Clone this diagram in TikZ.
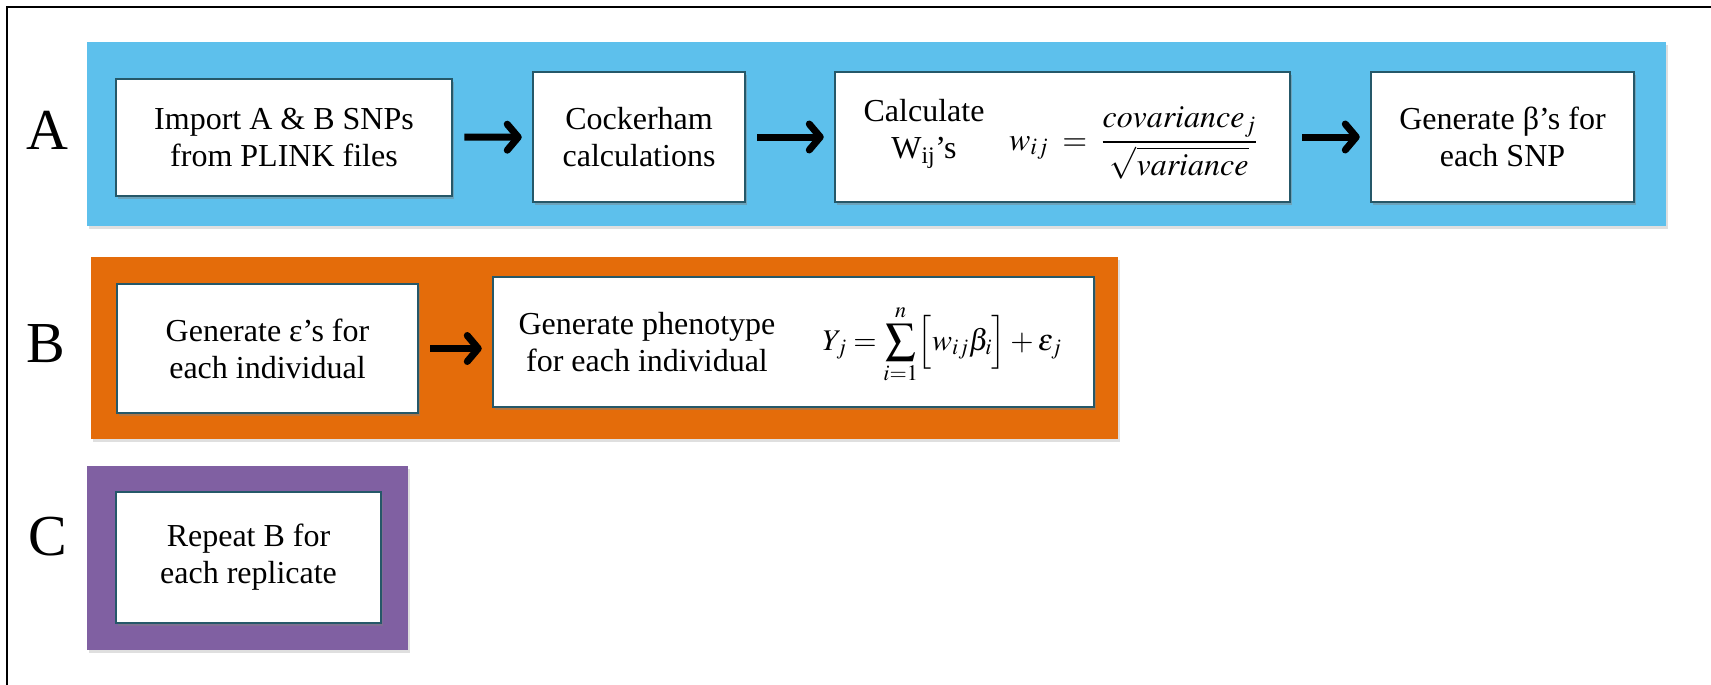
\documentclass[tikz,border=0pt]{standalone}
\usepackage{amsmath}
\usepackage{mathptmx}
\usepackage{fontspec}
\setmainfont{Liberation Serif}
\usetikzlibrary{arrows.meta,shadows}
\definecolor{panelblue}{RGB}{93,192,236}
\definecolor{panelorange}{RGB}{228,108,10}
\definecolor{panelpurple}{RGB}{128,96,162}
\definecolor{boxline}{RGB}{37,88,105}
\begin{document}
\begin{tikzpicture}[x=1pt,y=-1pt,
  panel/.style={draw=none, inner sep=0pt,
    drop shadow={shadow xshift=2pt,shadow yshift=-3pt,opacity=0.25}},
  stepbox/.style={draw=boxline, line width=2.5pt, fill=white, inner sep=0pt,
    align=center, font=\fontsize{32}{37}\selectfont,
    drop shadow={shadow xshift=2pt,shadow yshift=-3pt,opacity=0.45}},
  boxtext/.style={align=center, inner sep=0pt, font=\fontsize{32}{37}\selectfont},
  mathtext/.style={inner sep=0pt, font=\fontsize{32}{38}\selectfont},
  rowlabel/.style={inner sep=0pt, font=\fontsize{58}{60}\selectfont},
  arr/.style={line width=7pt, -{Straight Barb[length=11pt,width=26pt,round]},
    shorten <=11pt, shorten >=10pt}]
\useasboundingbox (0,0) rectangle (1711,685);
\fill[white] (0,0) rectangle (1711,685);
% outer frame (top and left edges visible)
\draw[line width=2.5pt] (7,685) -- (7,7) -- (1711,7);

% panels
\node[panel, fill=panelblue, minimum width=1579pt, minimum height=184pt] (PA) at (876.5,134) {};
\node[panel, fill=panelorange, minimum width=1027pt, minimum height=182pt] (PB) at (604.5,348) {};
\node[panel, fill=panelpurple, minimum width=321pt, minimum height=184pt] (PC) at (247.5,558) {};

% row labels
\node[rowlabel] (LA) at (47,130) {A};
\node[rowlabel] (LB) at (46,344) {B};
\node[rowlabel] (LC) at (48,537) {C};

% row A
\node[stepbox, minimum width=336pt, minimum height=117pt] (A1) at (284,137.5)
  {Import A \& B SNPs\\from PLINK files};
\node[stepbox, minimum width=212pt, minimum height=130pt] (A2) at (639,137)
  {Cockerham\\calculations};
\node[stepbox, minimum width=455pt, minimum height=130pt] (A3) at (1062.5,137) {};
\node[boxtext] (A3t) at (924,134) {Calculate\\W\textsubscript{ij}’s};
\node[mathtext, anchor=base] (A3f) at (1133,150)
  {$w_{ij} \;=\; \dfrac{\mathit{covariance}_j}{\sqrt{\mathit{variance}}}$};
\node[stepbox, minimum width=263pt, minimum height=130pt] (A4) at (1502.5,137)
  {Generate β’s for\\each SNP};

\draw[arr] (A1) -- (A2);
\draw[arr] (A2) -- (A3);
\draw[arr] (A3) -- (A4);

% row B
\node[stepbox, minimum width=301pt, minimum height=129pt] (B1) at (267.5,348.5)
  {Generate ε’s for\\each individual};
\node[stepbox, minimum width=601pt, minimum height=130pt] (B2) at (793.5,342) {};
\node[boxtext] (B2t) at (647,342) {Generate phenotype\\for each individual};
\node[mathtext, anchor=base, font=\fontsize{30}{36}\selectfont] (B2f) at (942,350)
  {$\displaystyle Y_j = \sum_{i=1}^{n}\Bigl[w_{ij}\beta_i\Bigr] + \varepsilon_j$};

\draw[arr] (B1.east) -- (B1.east -| B2.west);

% row C
\node[stepbox, minimum width=265pt, minimum height=131pt] (C1) at (248.5,557.5)
  {Repeat B for\\each replicate};
\end{tikzpicture}
\end{document}
